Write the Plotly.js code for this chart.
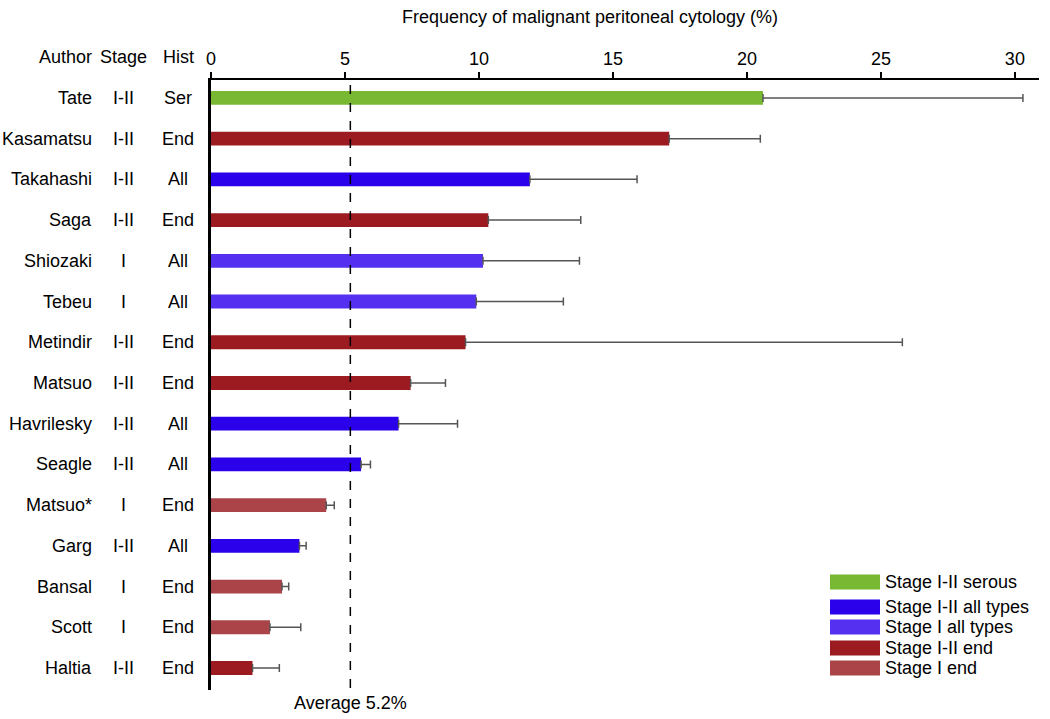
<!DOCTYPE html>
<html>
<head>
<meta charset="utf-8">
<script src="https://cdn.plot.ly/plotly-3.0.1.min.js"></script>
<style>html,body{margin:0;padding:0;background:#fff;}#chart{width:1050px;height:719px;}</style>
</head>
<body>
<div id="chart"></div>
<script>
var authors = ["Tate","Kasamatsu","Takahashi","Saga","Shiozaki","Tebeu","Metindir","Matsuo","Havrilesky","Seagle","Matsuo*","Garg","Bansal","Scott","Haltia"];
var stages  = ["I-II","I-II","I-II","I-II","I","I","I-II","I-II","I-II","I-II","I","I-II","I","I","I-II"];
var hists   = ["Ser","End","All","End","All","All","End","End","All","All","End","All","End","End","End"];
var values  = [20.6,17.1,11.9,10.35,10.15,9.9,9.5,7.45,7.0,5.6,4.3,3.3,2.65,2.2,1.55];
var upper   = [30.3,20.5,15.9,13.8,13.75,13.15,25.8,8.75,9.2,5.95,4.6,3.55,2.9,3.35,2.55];
var groups  = [0,3,1,3,2,2,3,3,1,1,4,1,4,4,3];
var groupNames  = ["Stage I-II serous","Stage I-II all types","Stage I all types","Stage I-II end","Stage I end"];
var groupColors = ["#78b832","#2b00ea","#5630f0","#9b1b20","#aa4448"];
var average = 5.2;
var xTicks = [0,5,10,15,20,25,30];

var FONT = "Liberation Sans, Arial, sans-serif";
var FS = 18;
var idx = authors.map(function(_, i){ return i; });

var trace = {
  type: "bar",
  orientation: "h",
  x: values,
  y: idx,
  width: 0.34,
  marker: {color: groups.map(function(g){ return groupColors[g]; }), line: {width: 0}},
  error_x: {
    type: "data", symmetric: false,
    array: upper.map(function(u, i){ return u - values[i]; }),
    arrayminus: values.map(function(){ return 0; }),
    color: "#555555", thickness: 1.5, width: 4
  },
  showlegend: false,
  hoverinfo: "x+text",
  text: authors, textposition: "none"
};

var W = 828, plotLeft = 211, plotTop = 80, H = 610;
function px(p){ return (p - plotLeft) / W; }
function py(p){ return (plotTop + H - p) / H; }

var annotations = [];
var headers = [["Author", 94, "right"], ["Stage", 123, "center"], ["Hist", 178, "center"]];
headers.forEach(function(h){
  annotations.push({xref:"paper", yref:"paper", x: px(h[1]), y: py(57), xanchor: h[2], yanchor:"middle",
    text: h[0], showarrow:false, font:{family:FONT, size:FS, color:"#000"}});
});
idx.forEach(function(i){
  annotations.push({xref:"paper", yref:"y", x: px(94), y: i, xanchor:"right", yanchor:"middle",
    text: authors[i], showarrow:false, font:{family:FONT, size:FS, color:"#000"}});
  annotations.push({xref:"paper", yref:"y", x: px(123), y: i, xanchor:"center", yanchor:"middle",
    text: stages[i], showarrow:false, font:{family:FONT, size:FS, color:"#000"}});
  annotations.push({xref:"paper", yref:"y", x: px(178), y: i, xanchor:"center", yanchor:"middle",
    text: hists[i], showarrow:false, font:{family:FONT, size:FS, color:"#000"}});
});
annotations.push({xref:"x", yref:"paper", x: average, y: py(703), xanchor:"center", yanchor:"middle",
  text: "Average " + average + "%", showarrow:false, font:{family:FONT, size:FS, color:"#000"}});

var shapes = [{type:"line", xref:"x", yref:"paper", x0: average, x1: average, y0: py(688), y1: 1,
  line:{color:"#000", width:1.5, dash:"dash"}}];

var legendY = [582, 607, 627, 648, 668];
groupNames.forEach(function(n, g){
  shapes.push({type:"rect", xref:"paper", yref:"paper", x0: px(830), x1: px(880),
    y0: py(legendY[g] + 7.5), y1: py(legendY[g] - 7.5), fillcolor: groupColors[g], line:{width:0}});
  annotations.push({xref:"paper", yref:"paper", x: px(883), y: py(legendY[g]), xanchor:"left", yanchor:"middle",
    text: n, showarrow:false, font:{family:FONT, size:FS, color:"#000"}});
});

var layout = {
  width: 1050, height: 719,
  margin: {l: plotLeft, r: 1050 - plotLeft - W, t: plotTop, b: 719 - plotTop - H},
  paper_bgcolor: "#fff", plot_bgcolor: "#fff",
  font: {family: FONT, size: FS, color: "#000"},
  title: {text: "Frequency of malignant peritoneal cytology (%)", xref:"container", yref:"container",
    x: 590/1050, y: 1 - 17/719, xanchor:"center", yanchor:"middle", font:{family:FONT, size:FS, color:"#000"}},
  xaxis: {side: "top", range: [0, 30.9], tickvals: xTicks, ticktext: xTicks.map(String),
    showline: true, linecolor: "#000", linewidth: 2, ticks: "outside", ticklen: 6, tickwidth: 2, tickcolor:"#000",
    showgrid: false, zeroline: false, tickfont:{family:FONT, size:FS, color:"#000"}, fixedrange:true},
  yaxis: {range: [14.54, -0.44], showticklabels: false, showline: true, linecolor:"#000", linewidth: 3,
    ticks: "", showgrid: false, zeroline: false, fixedrange:true},
  annotations: annotations,
  shapes: shapes,
  bargap: 0.6
};

Plotly.newPlot("chart", [trace], layout, {displayModeBar: false, staticPlot: true});
</script>
</body>
</html>
